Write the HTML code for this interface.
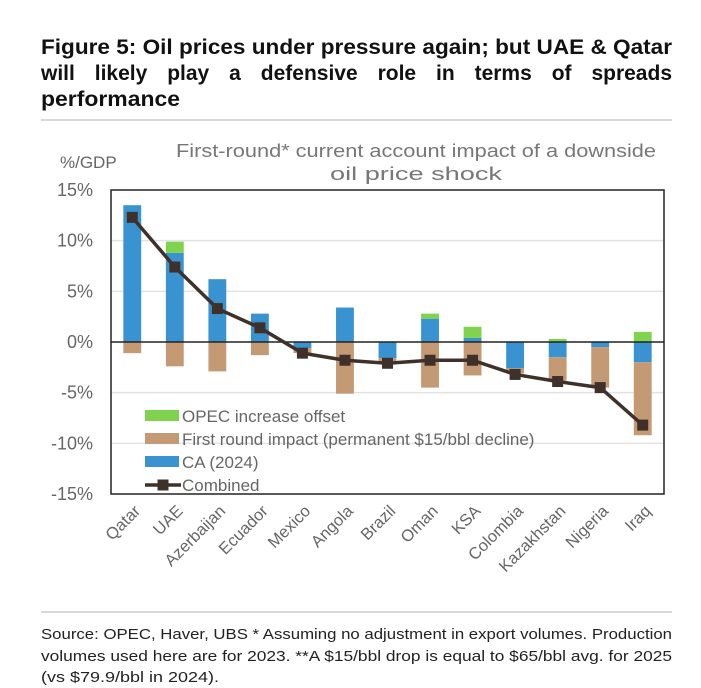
<!DOCTYPE html>
<html><head><meta charset="utf-8"><style>
html,body{margin:0;padding:0;background:#fff;}
svg{display:block;font-family:"Liberation Sans",sans-serif;}
</style></head><body>
<svg id="chart" width="701" height="688" viewBox="0 0 701 688">
<g font-weight="bold" font-size="21" fill="#111">
<text x="41" y="54" textLength="631" lengthAdjust="spacingAndGlyphs">Figure 5: Oil prices under pressure again; but UAE &amp; Qatar</text>
<g id="title-line2"></g>
<text x="41" y="106" textLength="139" lengthAdjust="spacingAndGlyphs">performance</text>
</g>
<line x1="41" y1="120" x2="672" y2="120" stroke="#ccc" stroke-width="1.5"/>
<g font-size="18" fill="#777" text-anchor="middle">
<text x="416" y="157" textLength="480" lengthAdjust="spacingAndGlyphs">First-round* current account impact of a downside</text>
<text x="416" y="180" textLength="172" lengthAdjust="spacingAndGlyphs">oil price shock</text>
</g>
<text x="60" y="168" font-size="17" fill="#666">%/GDP</text>
<g id="plot"></g>
<line x1="41" y1="612" x2="672" y2="612" stroke="#ccc" stroke-width="1.5"/>
<g font-size="14.5" fill="#222">
<text x="41" y="639" textLength="631" lengthAdjust="spacingAndGlyphs">Source: OPEC, Haver, UBS * Assuming no adjustment in export volumes. Production</text>
<text x="41" y="661" textLength="631" lengthAdjust="spacingAndGlyphs">volumes used here are for 2023. **A $15/bbl drop is equal to $65/bbl avg. for 2025</text>
<text x="41" y="682" textLength="178" lengthAdjust="spacingAndGlyphs">(vs $79.9/bbl in 2024).</text>
</g>
</svg>
<script>
const categories = ["Qatar","UAE","Azerbaijan","Ecuador","Mexico","Angola","Brazil","Oman","KSA","Colombia","Kazakhstan","Nigeria","Iraq"];
const caValues = [13.5, 8.8, 6.2, 2.8, -0.6, 3.4, -1.6, 2.3, 0.4, -2.6, -1.5, -0.5, -2.0];
const firstRoundValues = [-1.1, -2.4, -2.9, -1.3, -0.5, -5.1, -0.5, -4.5, -3.3, -0.5, -2.3, -4.0, -7.2];
const opecValues = [0, 1.1, 0, 0, 0, 0, 0, 0.5, 1.1, 0, 0.3, 0, 1.0];
const combinedValues = [12.3, 7.4, 3.3, 1.4, -1.1, -1.8, -2.1, -1.8, -1.8, -3.2, -3.9, -4.5, -8.2];
const yTicks = [15, 10, 5, 0, -5, -10, -15];
const legendLabels = ["OPEC increase offset","First round impact (permanent $15/bbl decline)","CA (2024)","Combined"];

const NS = "http://www.w3.org/2000/svg";
// justified title line 2
(function(){
  const g = document.getElementById("title-line2");
  const words = "will likely play a defensive role in terms of spreads".split(" ");
  const els = words.map(w => { const t = document.createElementNS(NS, "text"); t.setAttribute("y", 80); t.textContent = w; g.appendChild(t); return t; });
  const widths = els.map(e => e.getComputedTextLength());
  const total = widths.reduce((a,b)=>a+b,0);
  const gap = (631 - total) / (words.length - 1);
  let x = 41;
  els.forEach((e,i) => { e.setAttribute("x", x); x += widths[i] + gap; });
})();

const plot = document.getElementById("plot");
const L = 111, R = 664, T = 190, B = 494, yMin = -15, yMax = 15;
const bw = (R - L) / categories.length;
function y(v){ return T + (yMax - v) / (yMax - yMin) * (B - T); }
function xc(i){ return L + bw * (i + 0.5); }
function mk(tag, attrs){ const e = document.createElementNS(NS, tag); for (const k in attrs) e.setAttribute(k, attrs[k]); plot.appendChild(e); return e; }
const C = {ca:"#3a93d1", fr:"#c49a74", opec:"#7fd34e", line:"#3f3029"};

yTicks.forEach(t => {
  if (t !== 15 && t !== -15 && t !== 0) {
    const g = mk("line", {x1:L, x2:R, y1:y(t), y2:y(t), stroke:"#e3e3e3", "stroke-width":1.5});
    
    
  }
  const tx = mk("text", {x:93, y:y(t)+6, "text-anchor":"end", "font-size":18, fill:"#666"});
  tx.textContent = t + "%";
  
  
});

const bwid = bw * 0.42;
function bar(i, v0, v1, color, name){
  const r = mk("rect", {x:xc(i)-bwid/2, y:Math.min(y(v0),y(v1)), width:bwid, height:Math.abs(y(v1)-y(v0)), fill:color});
  
  
}
categories.forEach((c, i) => {
  const ca = caValues[i], fr = firstRoundValues[i], op = opecValues[i];
  bar(i, 0, ca, C.ca, "bar-ca-" + c.toLowerCase());
  const frStart = ca < 0 ? ca : 0;
  bar(i, frStart, frStart + fr, C.fr, "bar-first-round-" + c.toLowerCase());
  if (op > 0) { const os = ca > 0 ? ca : 0; bar(i, os, os + op, C.opec, "bar-opec-" + c.toLowerCase()); }
  const lab = mk("text", {x:0, y:0, "text-anchor":"end", "font-size":16.5, fill:"#666",
    transform:"translate(" + (xc(i)+9) + "," + (B+18) + ") rotate(-45)"});
  lab.textContent = c;
  
  
});

const zl = mk("line", {x1:L, x2:R, y1:y(0), y2:y(0), stroke:"#222", "stroke-width":1.5});



const pts = combinedValues.map((v, i) => xc(i) + "," + y(v)).join(" ");
const pl = mk("polyline", {points:pts, fill:"none", stroke:C.line, "stroke-width":3.5, "stroke-linejoin":"round"});


combinedValues.forEach((v, i) => {
  const m = mk("rect", {x:xc(i)-5.5, y:y(v)-5.5, width:11, height:11, fill:C.line});
  
  
});

const frame = mk("rect", {x:L, y:T, width:R-L, height:B-T, fill:"none", stroke:"#222", "stroke-width":1.5});



const legColors = [C.opec, C.fr, C.ca, null];
legendLabels.forEach((t, k) => {
  const cy = 416 + k * 23;
  if (legColors[k]) {
    const s = mk("rect", {x:145, y:cy-6, width:34, height:11, fill:legColors[k]});
    
    
  } else {
    const ln = mk("line", {x1:145, x2:181, y1:cy, y2:cy, stroke:C.line, "stroke-width":3.5});
    
    
    const sq = mk("rect", {x:157.5, y:cy-5.5, width:11, height:11, fill:C.line});
    
    
  }
  const tx = mk("text", {x:182, y:cy+6, "font-size":17, fill:"#666"});
  tx.textContent = t;
  
  
});
</script>
</body></html>
